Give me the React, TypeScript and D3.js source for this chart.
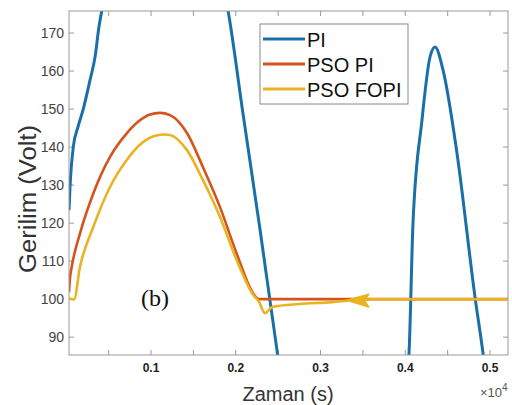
import React, { useEffect, useRef } from 'react';
import * as d3 from 'd3';

// time (s, x10^4) / voltage pairs
const piData: [number, number][] = [
  [0.0032, 123.4], [0.0044, 129.5], [0.0083, 140.1], [0.0138, 145.3], [0.0197, 149.7],
  [0.028, 157.6], [0.034, 163.8], [0.0386, 171.7], [0.042, 176], [0.06, 195],
  [0.09, 212], [0.117, 218], [0.15, 210], [0.175, 192], [0.1908, 176],
  [0.2085, 148.8], [0.2286, 118.3], [0.2498, 84.7], [0.27, 55],
  [0.33, 30], [0.39, 55], [0.4044, 85.8], [0.4091, 120], [0.4197, 147.1],
  [0.4292, 163.7], [0.4351, 166.3], [0.4445, 160.3], [0.461, 138.4], [0.4823, 100.5],
  [0.4917, 85.8], [0.51, 50], [0.525, 25],
];

const psoPiData: [number, number][] = [
  [0.0032, 101.8], [0.0045, 105.8], [0.0064, 108.5], [0.0162, 117.3], [0.0319, 127.8],
  [0.0516, 137.4], [0.0713, 143.6], [0.085, 146.7], [0.098, 148.5], [0.1106, 149],
  [0.1224, 148.4], [0.1424, 143.7], [0.1613, 134.7], [0.1814, 124.2], [0.201, 112],
  [0.2203, 101.6], [0.2274, 100], [0.3, 100], [0.4, 100], [0.5212, 100],
];

const psoFopiData: [number, number][] = [
  [0.0032, 100.2], [0.0091, 99.9], [0.0162, 108.5], [0.0319, 119], [0.0516, 129.5],
  [0.0713, 136.6], [0.0862, 140.5], [0.105, 143], [0.1165, 143.3], [0.1224, 143.2],
  [0.1424, 139.2], [0.1613, 131.3], [0.1814, 121.6], [0.201, 110.3], [0.2203, 101.2],
  [0.2274, 99.3], [0.2345, 96.3], [0.243, 97.9], [0.2746, 98.7], [0.3135, 99.2],
  [0.337, 99.7], [0.36, 99.95], [0.5212, 99.95],
];

// yellow arrow-like blob on the PSO FOPI trace
const arrowShape: [number, number][] = [[0.331, 99.7], [0.357, 101.3], [0.352, 99.6], [0.357, 97.9]];

const xTicks = [0.05, 0.1, 0.15, 0.2, 0.25, 0.3, 0.35, 0.4, 0.45, 0.5];
const xLabels = [0.1, 0.2, 0.3, 0.4, 0.5];
const yTicks = [90, 100, 110, 120, 130, 140, 150, 160, 170];

const seriesNames = ['PI', 'PSO PI', 'PSO FOPI'];
const seriesColors = ['#1b6fa8', '#d4541d', '#e9b321'];

const App = () => {
  const ref = useRef<SVGSVGElement | null>(null);

  useEffect(() => {
    const width = 512;
    const height = 405;
    const left = 69, right = 508, top = 11, bottom = 355;
    const font = 'Liberation Sans, Arial, sans-serif';

    const svg = d3.select(ref.current);
    svg.selectAll('*').remove();
    svg.attr('width', width).attr('height', height);

    svg.append('rect').attr('width', width).attr('height', height).attr('fill', 'white');

    const x = d3.scaleLinear().domain([0.0032, 0.5212]).range([left, right]);
    const y = d3.scaleLinear().domain([85.3, 175.8]).range([bottom, top]);

    svg.append('clipPath').attr('id', 'plot-clip')
      .append('rect')
      .attr('x', left).attr('y', top)
      .attr('width', right - left).attr('height', bottom - top);

    // ticks (inward, on all four sides)
    const axisColor = '#9a9a9a';
    const tl = 5;
    xTicks.forEach((t) => {
      svg.append('line').attr('x1', x(t)).attr('x2', x(t)).attr('y1', bottom).attr('y2', bottom - tl)
        .attr('stroke', axisColor);
      svg.append('line').attr('x1', x(t)).attr('x2', x(t)).attr('y1', top).attr('y2', top + tl)
        .attr('stroke', axisColor);
    });
    yTicks.forEach((t) => {
      svg.append('line').attr('x1', left).attr('x2', left + tl).attr('y1', y(t)).attr('y2', y(t))
        .attr('stroke', axisColor);
      svg.append('line').attr('x1', right).attr('x2', right - tl).attr('y1', y(t)).attr('y2', y(t))
        .attr('stroke', axisColor);
    });

    svg.selectAll('.ylab').data(yTicks).enter().append('text')
      .attr('x', left - 5).attr('y', (d) => y(d) + 5)
      .attr('text-anchor', 'end')
      .style('font-family', font).style('font-size', '14px').style('fill', '#444')
      .text((d) => d);

    svg.selectAll('.xlab').data(xLabels).enter().append('text')
      .attr('x', (d) => x(d)).attr('y', 372)
      .attr('text-anchor', 'middle')
      .style('font-family', font).style('font-size', '12px').style('font-weight', 'bold')
      .style('fill', '#222')
      .text((d) => d.toFixed(1));

    const line = d3.line<[number, number]>()
      .x((d) => x(d[0])).y((d) => y(d[1]))
      .curve(d3.curveMonotoneX);

    const plot = svg.append('g').attr('clip-path', 'url(#plot-clip)');
    [piData, psoPiData, psoFopiData].forEach((data, i) => {
      plot.append('path')
        .attr('d', line(data))
        .attr('fill', 'none')
        .attr('stroke', seriesColors[i])
        .attr('stroke-width', i === 0 ? 3 : 2.6)
        .attr('stroke-linejoin', 'round');
    });
    plot.append('path')
      .attr('d', d3.line<[number, number]>().x((d) => x(d[0])).y((d) => y(d[1]))(arrowShape) + 'Z')
      .attr('fill', seriesColors[2])
      .attr('stroke', seriesColors[2])
      .attr('stroke-width', 1.5)
      .attr('stroke-linejoin', 'round');

    // box
    svg.append('rect')
      .attr('x', left).attr('y', top)
      .attr('width', right - left).attr('height', bottom - top)
      .attr('fill', 'none').attr('stroke', axisColor).attr('stroke-width', 1);

    // legend
    const legend = svg.append('g');
    legend.append('rect')
      .attr('x', 260).attr('y', 24).attr('width', 148).attr('height', 80)
      .attr('fill', 'white').attr('stroke', '#8a8a8a').attr('stroke-width', 1);
    seriesNames.forEach((name, i) => {
      const ly = 39 + i * 25;
      legend.append('line')
        .attr('x1', 263).attr('x2', 305).attr('y1', ly).attr('y2', ly)
        .attr('stroke', seriesColors[i]).attr('stroke-width', 3);
      legend.append('text')
        .attr('x', 307).attr('y', ly + 7.5)
        .style('font-family', font).style('font-size', '20px').style('fill', '#111')
        .text(name);
    });

    // axis titles
    svg.append('text')
      .attr('x', 288).attr('y', 401)
      .attr('text-anchor', 'middle')
      .style('font-family', font).style('font-size', '20px').style('fill', '#333')
      .text('Zaman (s)');

    svg.append('text')
      .attr('transform', 'translate(36,199) rotate(-90)')
      .attr('text-anchor', 'middle')
      .attr('textLength', 148).attr('lengthAdjust', 'spacingAndGlyphs')
      .style('font-family', font).style('font-size', '23px').style('fill', '#333')
      .text('Gerilim (Volt)');

    // exponent
    const expo = svg.append('text')
      .attr('x', 480).attr('y', 397)
      .style('font-family', font).style('font-size', '13px').style('fill', '#555');
    expo.append('tspan').text('\u00d710');
    expo.append('tspan').attr('dy', -6).style('font-size', '10px').text('4');

    svg.append('text')
      .attr('x', 155).attr('y', 306)
      .attr('text-anchor', 'middle')
      .style('font-family', 'Liberation Serif, Times New Roman, serif')
      .style('font-size', '24px').style('fill', '#111')
      .text('(b)');
  }, []);

  return (
    <div style={{ position: 'absolute', left: 0, top: 0 }}>
      <svg ref={ref} style={{ display: 'block' }} />
    </div>
  );
};

export default App;
